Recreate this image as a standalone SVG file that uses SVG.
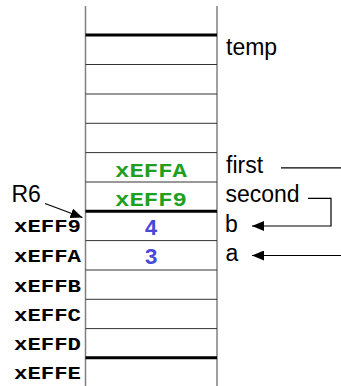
<svg xmlns="http://www.w3.org/2000/svg" width="341" height="386" viewBox="0 0 341 386">
<style>
.bg{fill:#ffffff}
.vl{stroke:#808080;stroke-width:1.5;fill:none}
.thin{stroke:#333333;stroke-width:1;fill:none}
.thick{stroke:#000000;stroke-width:3;fill:none}
.lbl{font-family:"Liberation Sans",Arial,sans-serif;font-size:23px;fill:#000000}
.addr{font-family:"Liberation Mono","Courier New",monospace;font-weight:bold;font-size:19px;fill:#000000}
.ptr{font-family:"Liberation Mono","Courier New",monospace;font-weight:bold;font-size:20px;fill:#1f9f1f;text-anchor:middle}
.val{font-family:"Liberation Mono","Courier New",monospace;font-weight:bold;font-size:22px;fill:#4848d8;text-anchor:middle}
.conn{stroke:#000000;stroke-width:1.2;fill:none}
</style>
<defs>
<marker id="ah" viewBox="0 0 12 10" refX="12" refY="5" markerWidth="12" markerHeight="10" markerUnits="userSpaceOnUse" orient="auto">
<path d="M0,0 L12,5 L0,10 Z" fill="#000000"/>
</marker>
</defs>
<rect class="bg" x="0" y="0" width="341" height="386"/>
<g id="stack">
<line class="vl" x1="85.5" y1="6" x2="85.5" y2="386"/>
<line class="vl" x1="217" y1="6" x2="217" y2="386"/>
<line class="thin" x1="85.5" y1="64.5" x2="217" y2="64.5"/>
<line class="thin" x1="85.5" y1="94" x2="217" y2="94"/>
<line class="thin" x1="85.5" y1="123.3" x2="217" y2="123.3"/>
<line class="thin" x1="85.5" y1="152.6" x2="217" y2="152.6"/>
<line class="thin" x1="85.5" y1="182" x2="217" y2="182"/>
<line class="thin" x1="85.5" y1="240.6" x2="217" y2="240.6"/>
<line class="thin" x1="85.5" y1="270" x2="217" y2="270"/>
<line class="thin" x1="85.5" y1="299.3" x2="217" y2="299.3"/>
<line class="thin" x1="85.5" y1="328.6" x2="217" y2="328.6"/>
<line class="thick" x1="85.5" y1="35" x2="217" y2="35"/>
<line class="thick" x1="85.5" y1="211.3" x2="217" y2="211.3"/>
<line class="thick" x1="85.5" y1="357.8" x2="217" y2="357.8"/>
</g>
<g id="cell-first"><text class="ptr" x="151" y="177" textLength="72" lengthAdjust="spacingAndGlyphs">xEFFA</text></g>
<g id="cell-second"><text class="ptr" x="151" y="205.5" textLength="72" lengthAdjust="spacingAndGlyphs">xEFF9</text></g>
<g id="cell-b"><text class="val" x="151" y="234.5">4</text></g>
<g id="cell-a"><text class="val" x="151" y="263.5">3</text></g>
<g id="addresses">
<text class="addr" x="14" y="232" textLength="67" lengthAdjust="spacingAndGlyphs">xEFF9</text>
<text class="addr" x="14" y="261.5" textLength="67" lengthAdjust="spacingAndGlyphs">xEFFA</text>
<text class="addr" x="14" y="291.5" textLength="67" lengthAdjust="spacingAndGlyphs">xEFFB</text>
<text class="addr" x="14" y="320.5" textLength="67" lengthAdjust="spacingAndGlyphs">xEFFC</text>
<text class="addr" x="14" y="349.5" textLength="67" lengthAdjust="spacingAndGlyphs">xEFFD</text>
<text class="addr" x="14" y="378.5" textLength="67" lengthAdjust="spacingAndGlyphs">xEFFE</text>
</g>
<g id="labels">
<text class="lbl" x="226" y="55">temp</text>
<text class="lbl" x="226" y="173">first</text>
<text class="lbl" x="225.5" y="202">second</text>
<text class="lbl" x="225" y="231.5">b</text>
<text class="lbl" x="225.5" y="260.5">a</text>
</g>
<g id="R6"><text class="lbl" x="11.5" y="201.5">R6</text></g>
<g id="connectors">
<line class="conn" x1="45" y1="203.5" x2="82.5" y2="217.5" marker-end="url(#ah)"/>
<line class="conn" x1="281" y1="167.8" x2="341" y2="167.8"/>
<path class="conn" d="M308,198.3 H331 V226 H252" marker-end="url(#ah)"/>
<line class="conn" x1="341" y1="255.5" x2="252" y2="255.5" marker-end="url(#ah)"/>
</g>
</svg>
